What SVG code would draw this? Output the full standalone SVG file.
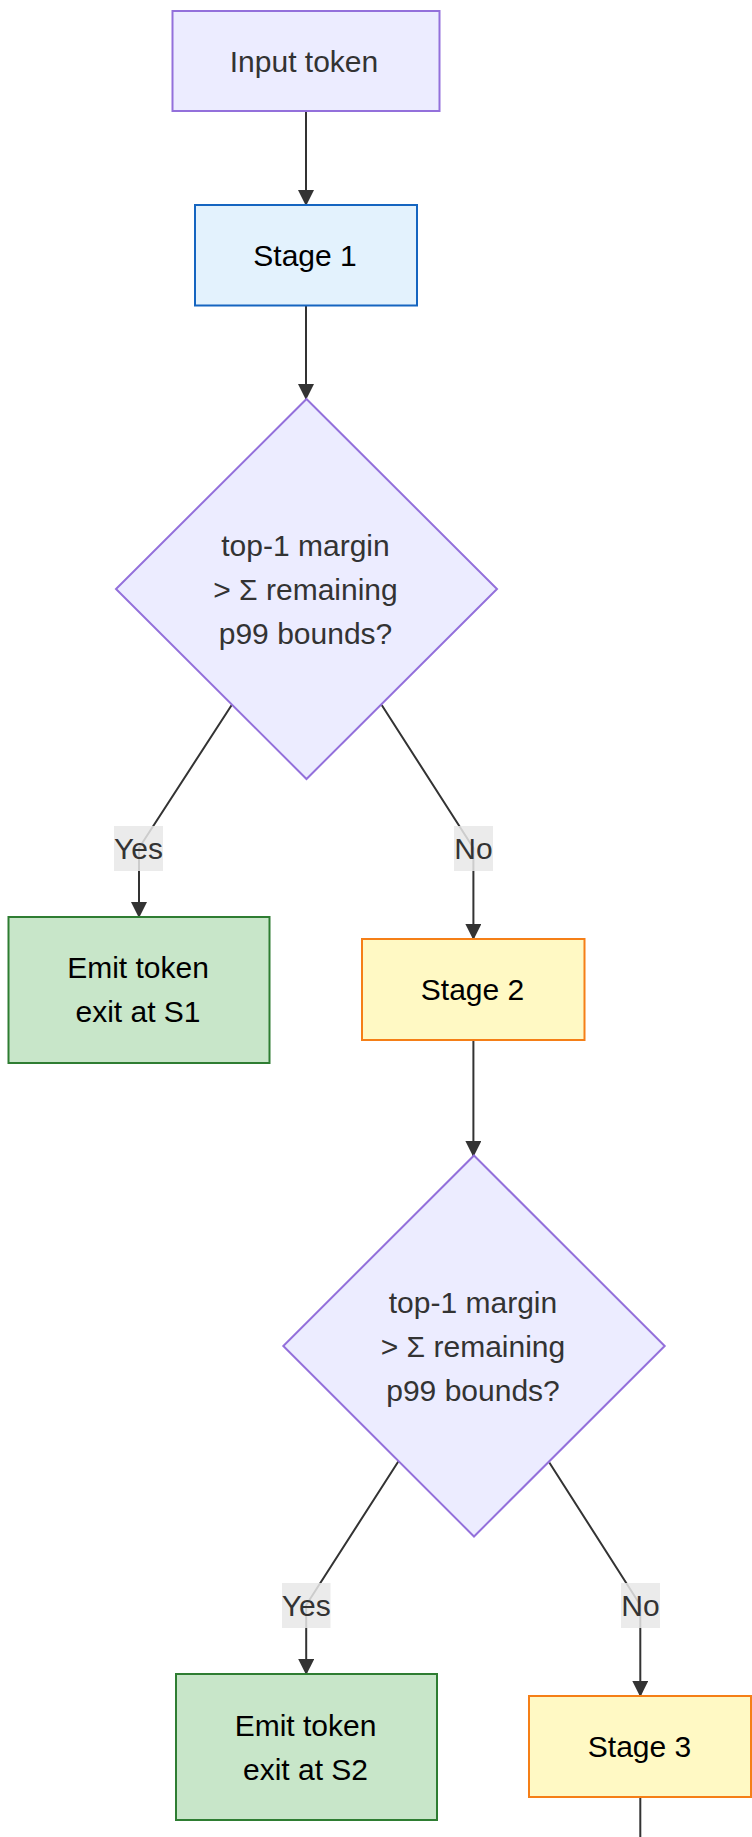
<svg xmlns="http://www.w3.org/2000/svg" width="752" height="1837" viewBox="0 0 752 1837">
<defs>
<marker id="arrow" markerUnits="userSpaceOnUse" markerWidth="16" markerHeight="16" viewBox="0 0 16 16" refX="15" refY="8" orient="auto">
<path d="M0,0 L16,8 L0,16 z" fill="#333333"/>
</marker>
<style>
text{font-family:"Liberation Sans",Arial,Helvetica,sans-serif;font-size:30px;text-anchor:middle;dominant-baseline:central}
.edge{fill:none;stroke:#333333;stroke-width:2}
.lbl-bg{fill:#e8e8e8;fill-opacity:0.85}
.lbl{fill:#333333}
.def{fill:#ECECFF;stroke:#9370DB;stroke-width:2}
.s1{fill:#E3F2FD;stroke:#1565C0;stroke-width:2}
.stage{fill:#FFF9C4;stroke:#F57F17;stroke-width:2}
.emit{fill:#C8E6C9;stroke:#2E7D32;stroke-width:2}
.dark{fill:#333333}
.black{fill:#000000}
</style>
</defs>
<rect width="752" height="1837" fill="#ffffff"/>
<g id="connectors">
<path class="edge" d="M306,111.5 L306,205" marker-end="url(#arrow)"/>
<path class="edge" d="M306,305.5 L306,399" marker-end="url(#arrow)"/>
<path class="edge" d="M231.7,705 L139,848 L139,917" marker-end="url(#arrow)"/>
<path class="edge" d="M381.7,705 L473.4,848 L473.4,939" marker-end="url(#arrow)"/>
<path class="edge" d="M473.4,1040 L473.4,1156" marker-end="url(#arrow)"/>
<path class="edge" d="M398.3,1461.5 L306.2,1605 L306.2,1674" marker-end="url(#arrow)"/>
<path class="edge" d="M549.3,1462.5 L640.3,1605 L640.3,1696" marker-end="url(#arrow)"/>
<path class="edge" d="M640.3,1797.5 L640.3,1837"/>
<g id="label-yes1"><rect class="lbl-bg" x="114" y="826" width="49" height="45"/><text class="lbl" x="138.5" y="848.5">Yes</text></g>
<g id="label-no1"><rect class="lbl-bg" x="454" y="826" width="39" height="45"/><text class="lbl" x="473.4" y="848.5">No</text></g>
<g id="label-yes2"><rect class="lbl-bg" x="282" y="1583" width="48.5" height="45"/><text class="lbl" x="306.2" y="1605.5">Yes</text></g>
<g id="label-no2"><rect class="lbl-bg" x="621" y="1583" width="39" height="45"/><text class="lbl" x="640.4" y="1605.5">No</text></g>
</g>
<g id="input-token">
<rect class="def" x="172.5" y="11" width="267" height="100"/>
<text class="dark" x="304" y="61">Input token</text>
</g>
<g id="stage-1">
<rect class="s1" x="195" y="205" width="222" height="100.5"/>
<text class="black" x="305" y="255">Stage 1</text>
</g>
<g id="decision-1">
<polygon class="def" points="306.5,399 497,589 306.5,779 116,589"/>
<text class="dark" x="305.5" y="545">top-1 margin</text>
<text class="dark" x="305.5" y="589">&gt; Σ remaining</text>
<text class="dark" x="305.5" y="633">p99 bounds?</text>
</g>
<g id="emit-s1">
<rect class="emit" x="8.5" y="917" width="261" height="146"/>
<text class="black" x="138" y="967">Emit token</text>
<text class="black" x="138" y="1011.5">exit at S1</text>
</g>
<g id="stage-2">
<rect class="stage" x="362" y="939" width="222.5" height="101"/>
<text class="black" x="472.5" y="989.5">Stage 2</text>
</g>
<g id="decision-2">
<polygon class="def" points="474,1155.5 664.7,1346 474,1536.5 283.3,1346"/>
<text class="dark" x="473" y="1302">top-1 margin</text>
<text class="dark" x="473" y="1346">&gt; Σ remaining</text>
<text class="dark" x="473" y="1390">p99 bounds?</text>
</g>
<g id="emit-s2">
<rect class="emit" x="176" y="1674" width="261" height="146"/>
<text class="black" x="305.5" y="1725">Emit token</text>
<text class="black" x="305.5" y="1769.5">exit at S2</text>
</g>
<g id="stage-3">
<rect class="stage" x="529" y="1696" width="222" height="101"/>
<text class="black" x="639.5" y="1746.5">Stage 3</text>
</g>
</svg>
